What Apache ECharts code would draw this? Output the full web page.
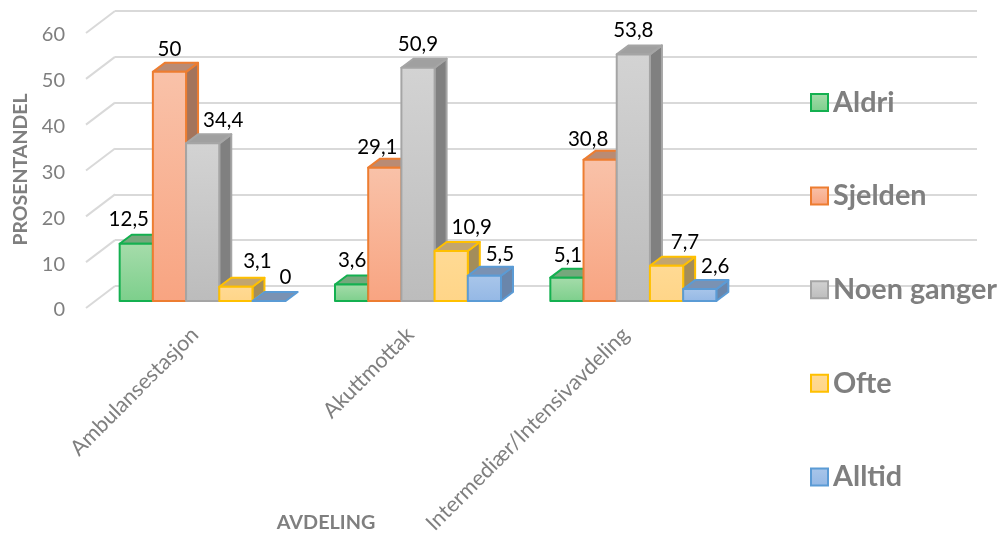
<!DOCTYPE html>
<html><head><meta charset="utf-8">
<style>html,body{margin:0;padding:0;background:#fff}#c{width:1000px;height:534px}</style>
<script src="https://cdn.jsdelivr.net/npm/echarts@6/dist/echarts.min.js"></script>
</head><body><div id="c"></div>
<script>
const categories = ['Ambulansestasjon', 'Akuttmottak', 'Intermediær/Intensivavdeling'];
const aldri = [12.5, 3.6, 5.1];
const sjelden = [50, 29.1, 30.8];
const noenGanger = [34.4, 50.9, 53.8];
const ofte = [3.1, 10.9, 7.7];
const alltid = [0, 5.5, 2.6];
const yTicks = [0, 10, 20, 30, 40, 50, 60];
const seriesNames = ['Aldri', 'Sjelden', 'Noen ganger', 'Ofte', 'Alltid'];
const seriesValues = [aldri, sjelden, noenGanger, ofte, alltid];

// label nudges per series / category, in pixels
const labelDx = [[-7.5, 0.5, 1], [0, -7.5, -12], [20.5, 0, 0], [21.5, 20.5, 18.5], [16.5, 15.5, 15.5]];
const labelDy = [[24, 24, 22], [22, 20, 20], [23, 23, 24], [25, 24, 23], [24, 21, 23]];
const palette = [
  {top:'#a6dcab', bot:'#7ccf8b', line:'#14b050', cap:'#75a87c', side:'#6b9a73'},
  {top:'#f9c2a9', bot:'#f8a481', line:'#ed7d31', cap:'#b98b74', side:'#a3745c'},
  {top:'#d3d3d3', bot:'#bcbcbc', line:'#a5a5a5', cap:'#a0a0a0', side:'#808080'},
  {top:'#ffda94', bot:'#ffd588', line:'#ffc000', cap:'#c2a56f', side:'#a38d5a'},
  {top:'#a9c6ea', bot:'#94b8e5', line:'#5b9bd5', cap:'#7a92b3', side:'#6a86ab'}
];
const DX = 12, DY = 9, BAR_FRAC = 33.2 / 215.33;
const fmt = v => String(v).replace('.', ',');
const grad = p => ({type:'linear', x:0, y:0, x2:0, y2:1, colorStops:[{offset:0,color:p.top},{offset:1,color:p.bot}]});

function barSeries(k) {
  const p = palette[k];
  return {
    type: 'custom', name: seriesNames[k], xAxisIndex: 0, yAxisIndex: 0, clip: false, z: 5 + k,
    itemStyle: {color: grad(p), borderColor: p.line, borderWidth: 2},
    encode: {x: 0, y: 1},
    data: seriesValues[k].map((v, i) => [i, v]),
    renderItem(params, api) {
      const i = api.value(0), v = api.value(1);
      const c = api.coord([i, v]), b = api.coord([i, 0]);
      const w = api.size([1, 0])[0] * BAR_FRAC;
      const l = c[0] + (k - 2.5) * w, r = l + w, t = c[1], y0 = b[1];
      const edge = {stroke: p.line, lineWidth: 2, lineJoin: 'round'};
      const children = [];
      if (y0 - t > 0.5) {
        children.push({type:'polygon', shape:{points:[[r,t],[r+DX,t-DY],[r+DX,y0-DY],[r,y0]]},
          style:Object.assign({fill:p.side}, edge)});
        children.push({type:'polygon', shape:{points:[[l,t],[l+DX,t-DY],[r+DX,t-DY],[r,t]]},
          style:Object.assign({fill:p.cap}, edge)});
        children.push({type:'rect', shape:{x:l,y:t,width:w,height:y0-t},
          style:Object.assign({fill:grad(p)}, edge)});
      } else {
        children.push({type:'polygon', shape:{points:[[l,t],[l+DX,t-DY],[r+DX,t-DY],[r,t]]},
          style:Object.assign({fill:p.cap}, edge)});
      }
      children.push({type:'text', z2: 50, style:{
        text: fmt(v), x: l + w / 2 + labelDx[k][i], y: t - labelDy[k][i],
        fill:'#000', font:'20.5px Lato', textAlign:'center', textVerticalAlign:'middle'}});
      return {type:'group', children};
    }
  };
}

const chart = echarts.init(document.getElementById('c'), null, {renderer:'canvas'});
chart.setOption({
  animation: false,
  backgroundColor: '#fff',
  grid: [
    {left: 95, top: 26, width: 646, height: 275, outerBoundsMode:'none'},
    {left: 115, top: 11, width: 862, height: 275, outerBoundsMode:'none'}
  ],
  xAxis: [
    {type:'category', gridIndex:0, data:categories, axisLine:{show:false}, axisTick:{show:false},
     axisLabel:{rotate:45, interval:0, margin:38, verticalAlign:'bottom', color:'#7f7f7f', fontFamily:'Lato', fontSize:21.5},
     name:'AVDELING', nameLocation:'middle', nameGap:212, nameMoveOverlap:false,
     nameTextStyle:{color:'#7f7f7f', fontFamily:'Lato', fontWeight:'bold', fontSize:19.8, padding:[0,184,0,0]}},
    {type:'value', gridIndex:1, min:0, max:1, show:false}
  ],
  yAxis: [
    {type:'value', gridIndex:0, min:0, max:60, interval:10, splitLine:{show:false}, axisLine:{show:false}, axisTick:{show:false},
     axisLabel:{margin:30, color:'#7f7f7f', fontFamily:'Lato', fontSize:20, verticalAlign:'top', lineHeight:18},
     name:'PROSENTANDEL', nameLocation:'middle', nameGap:63, nameRotate:90,
     nameTextStyle:{color:'#7f7f7f', fontFamily:'Lato', fontWeight:'bold', fontSize:19.5, padding:[0,12,0,0]}},
    {type:'value', gridIndex:1, min:0, max:60, interval:10, axisLine:{show:false}, axisTick:{show:false}, axisLabel:{show:false},
     splitLine:{show:true, lineStyle:{color:'#d9d9d9', width:2}}}
  ],
  legend: {
    orient:'vertical', left:810, top:88, padding:0, itemWidth:17, itemHeight:17, itemGap:64.6, icon:'rect',
    data: seriesNames, selectedMode:false,
    textStyle:{color:'#7f7f7f', fontFamily:'Lato', fontWeight:'bold', fontSize:28.8, lineHeight:28, padding:[0,0,0,0]}
  },
  series: [
    {type:'custom', name:'wall', xAxisIndex:1, yAxisIndex:1, clip:false, silent:true, z:1,
     data: yTicks.map(t => [0, t]), encode:{x:0, y:1},
     renderItem(params, api) {
       const q = api.coord([0, api.value(1)]);
       return {type:'line', shape:{x1:q[0], y1:q[1], x2:q[0]-29, y2:q[1]+22}, style:{stroke:'#d9d9d9', lineWidth:2}};
     }},
    ...seriesNames.map((_, k) => barSeries(k))
  ]
});
</script></body></html>
